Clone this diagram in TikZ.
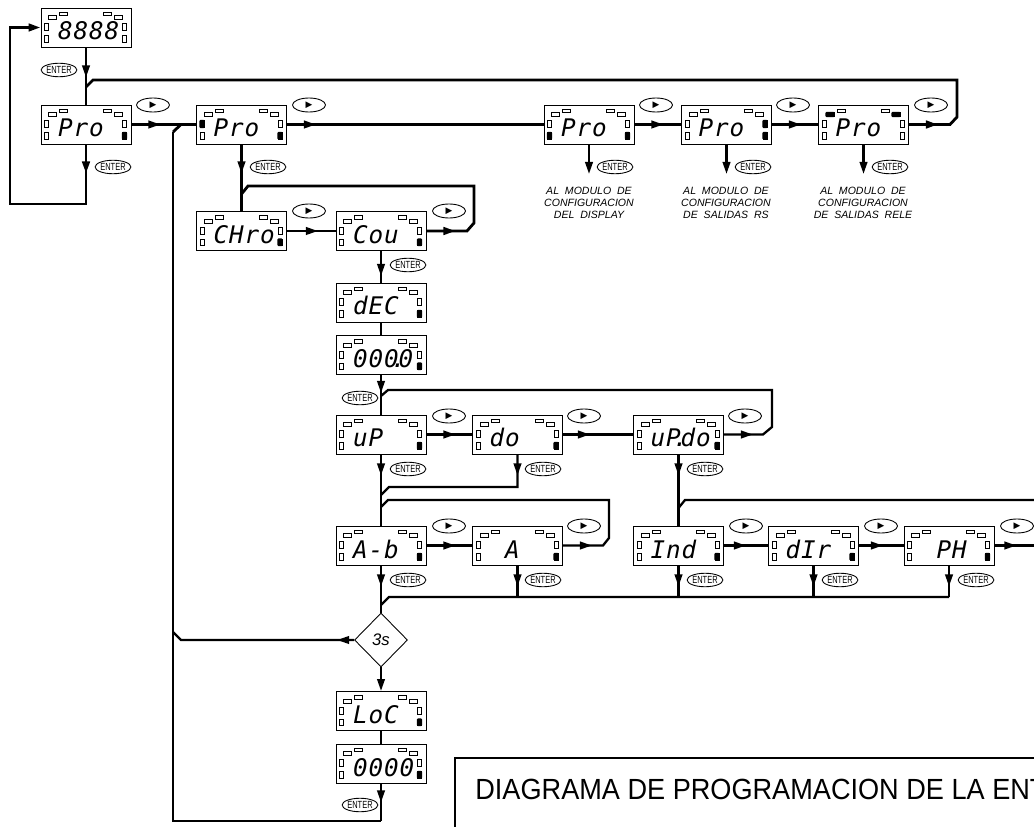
\documentclass[tikz,border=0pt]{standalone}
\usepackage{fontspec}
\usepackage{tikz}
\usetikzlibrary{arrows.meta}
\usetikzlibrary{shapes.geometric}
\usetikzlibrary{decorations.markings}

\setmainfont{Liberation Sans}
\newfontfamily\segfont[LetterSpace=4]{DejaVu Sans Mono}
\newfontfamily\keyfont[FakeStretch=0.72]{Liberation Sans}
\newfontfamily\titlefont[FakeStretch=0.93]{Liberation Sans}
\newfontfamily\symfont{DejaVu Sans}

% indicator rectangles, relative to the top left corner of a display: x/y/w/h
\def\ledTL{8/8/8/4}
\def\ledTM{19/4.5/8/3.5}
\def\ledTN{63/4.5/8/3.5}
\def\ledTR{74/8/8/4}
\def\ledLU{4/16/4/7}
\def\ledLL{4/28/4/6.5}
\def\ledRU{82/16/4/7}
\def\ledRL{82/28/4/6.5}
\def\ledNone{0/0/0/0}
\edef\ledall{\ledTL,\ledTM,\ledTN,\ledTR,\ledLU,\ledLL,\ledRU,\ledRL}
\newcommand{\segdot}{\makebox[0pt][c]{.}}

\tikzset{
    dispnode/.style={draw, line width=0.55pt, minimum width=1.8cm, minimum height=0.78cm,
        inner sep=0pt, text height=0.5cm, text depth=0pt},
    ledoff/.style={draw, line width=0.4pt},
    ledon/.style={fill, draw, line width=0.8pt, rounded corners=0.5pt},
    conn/.style={line width=1.3pt},
    connb/.style={line width=1.6pt},
    tipat/.style={postaction={decorate},
        decoration={markings, mark=at position #1 with {\arrow{>}}}},
    tipat/.default=0.58cm,
    enterkey/.style={draw, ellipse, line width=0.5pt, minimum width=0.66cm, minimum height=0.27cm,
        inner sep=0pt, font=\keyfont\fontsize{5.9}{5.9}\selectfont},
    playkey/.style={draw, ellipse, line width=0.5pt, minimum width=0.66cm, minimum height=0.28cm,
        inner sep=0pt, font=\symfont\fontsize{5}{5}\selectfont},
    modlabel/.style={align=center, font=\itshape\fontsize{6}{6.85}\selectfont},
}

% optional: lit indicators; then name, x, y, readout
\newcommand{\dispbox}[5][\ledRL]{
    \node[dispnode] (#2) at (#3,#4) {\makebox[1.12cm][l]{\segfont\itshape\fontsize{13.8}{15}\selectfont #5}};
    \begin{scope}[shift={(#2.north west)}]
        \foreach \lx/\ly/\lw/\lh in \ledall
            \draw[ledoff] (\lx,\ly) rectangle ++(\lw,\lh);
        \edef\litlist{#1}
        \foreach \lx/\ly/\lw/\lh in \litlist
            \path[ledon] (\lx,\ly) rectangle ++(\lw,\lh);
    \end{scope}
}

\begin{document}
\begin{tikzpicture}[x=0.02cm, y=-0.02cm, >={Triangle[length=0.24cm,width=0.15cm]}]
\useasboundingbox (0,0) rectangle (1034,827);

% --- displays ---
\node[dispnode] (seg) at (86,27.5) {\makebox[1.12cm][l]{\segfont\itshape\fontsize{13.8}{15}\selectfont 8888}};
\begin{scope}[shift={(seg.north west)}]
    \foreach \lx/\ly/\lw/\lh in \ledall
        \draw[ledoff] (\lx,\ly) rectangle ++(\lw,\lh);
\end{scope}
\dispbox{proA}{86}{124.5}{Pro}
\dispbox[\ledLU,\ledRL]{proB}{241.5}{124.5}{Pro}
\dispbox[\ledLL,\ledRL]{proC}{589}{124.5}{Pro}
\dispbox[\ledRU,\ledRL]{proD}{726.5}{124.5}{Pro}
\dispbox[\ledTL,\ledTR]{proE}{863.5}{124.5}{Pro}

\dispbox{chro}{241.5}{231}{CHro}
\dispbox{cou}{381}{231}{Cou}
\dispbox{dec}{381}{302.5}{dEC}
\dispbox{val}{381}{355}{000\segdot 0}

\dispbox{up}{381}{434.5}{uP}
\dispbox{dow}{517.5}{434.5}{do}
\dispbox{updo}{678.5}{434.5}{uP\segdot do}

\dispbox{ab}{381}{545.5}{A-b}
\dispbox{aa}{517.5}{545.5}{~A}
\dispbox{ind}{678.5}{545.5}{Ind}
\dispbox{dir}{813.5}{545.5}{dIr}
\dispbox{ph}{949}{545.5}{~PH}

\dispbox{loc}{381}{711}{LoC}
\dispbox{cod}{381}{763.5}{0000}

\node[draw, diamond, aspect=1, line width=0.5pt, minimum width=1.06cm, minimum height=1.08cm,
      inner sep=0pt, font=\itshape\fontsize{9.5}{9.5}\selectfont] (wait) at (381,640) {3s};

% --- keys ---
\node[enterkey] (enA) at (59,70) {ENTER};
\node[enterkey] (enB) at (113,167) {ENTER};
\node[enterkey] (enC) at (268,167) {ENTER};
\node[enterkey] (enD) at (615,167) {ENTER};
\node[enterkey] (enE) at (753,167) {ENTER};
\node[enterkey] (enF) at (890,167) {ENTER};
\node[enterkey] (enG) at (408,265) {ENTER};
\node[enterkey] (enH) at (360,398) {ENTER};
\node[enterkey] (enI) at (408,469) {ENTER};
\node[enterkey] (enJ) at (543,469) {ENTER};
\node[enterkey] (enK) at (705,469) {ENTER};
\node[enterkey] (enL) at (408,580) {ENTER};
\node[enterkey] (enM) at (543,580) {ENTER};
\node[enterkey] (enN) at (705,580) {ENTER};
\node[enterkey] (enO) at (840,580) {ENTER};
\node[enterkey] (enP) at (976,580) {ENTER};
\node[enterkey] (enQ) at (360,805) {ENTER};

\foreach \kname/\kx/\ky in {plA/153/105, plB/309/105, plC/656/105, plD/793/105, plE/931/105,
        plF/309/211, plG/449/211, plH/449/416, plI/584/416, plJ/745/416,
        plK/449/526, plL/584/526, plM/746/526, plN/881/526, plO/1017/526}
    \node[playkey] (\kname) at (\kx,\ky) {▶};

% --- module labels ---
\node[modlabel] (modA) at (589,203) {AL\ \ MODULO\ \ DE\\CONFIGURACION\\DEL\ \ DISPLAY};
\node[modlabel] (modB) at (726,203) {AL\ \ MODULO\ \ DE\\CONFIGURACION\\DE\ \ SALIDAS\ \ RS};
\node[modlabel] (modC) at (863,203) {AL\ \ MODULO\ \ DE\\CONFIGURACION\\DE\ \ SALIDAS\ \ RELE};

% --- free ends and junctions ---
\coordinate (jTop) at (86,87);
\coordinate (jBack) at (173,132);
\coordinate (jChro) at (241.5,194);
\coordinate (jUp) at (381,396);
\coordinate (jDo) at (381,495);
\coordinate (jAb) at (381,507);
\coordinate (jInd) at (678.5,508);
\coordinate (jBus) at (381,605);
\coordinate (endD) at (589,174);
\coordinate (endE) at (726.5,174);
\coordinate (endF) at (863.5,174);
\coordinate (endPh) at (1040,545.5);
\coordinate (endRet) at (1040,500);
\coordinate (busA) at (517.5,597);
\coordinate (busI) at (678.5,597);
\coordinate (busD) at (813.5,597);
\coordinate (busP) at (949,597);

% --- top row ---
\draw[conn, tipat=0.6cm] (seg.south) -- (proA.north);
\draw[conn, tipat] (proA.east) -- (proB.west);
\draw[conn, tipat] (proB.east) -- (proC.west);
\draw[conn, tipat] (proC.east) -- (proD.west);
\draw[conn, tipat] (proD.east) -- (proE.west);
\draw[connb, tipat] (proE.east) -- (950,124.5) -- (957,117) -- (957,80) -- (93,80) -- (jTop);
\draw[connb, tipat, ->] (proA.south) -- (86,204) -- (10,204) -- (10,27.5) -- (seg.west);
\draw[connb] (181,124.5) -- (jBack);
\draw[connb] (jBack) -- (173,821) -- (381,821);
\draw[conn, tipat=0.38cm] (cod.south) -- (381,821);
\draw[conn, ->] (proC.south) -- (endD);
\draw[conn, ->] (proD.south) -- (endE);
\draw[conn, ->] (proE.south) -- (endF);
\draw[conn, tipat] (proB.south) -- (chro.north);

% --- chrono / count row ---
\draw[conn, tipat=0.62cm] (chro.east) -- (cou.west);
\draw[connb, tipat] (cou.east) -- (467,231) -- (474,223) -- (474,186) -- (248,186) -- (jChro);
\draw[conn, tipat=0.5cm] (cou.south) -- (dec.north);
\draw[conn] (dec.south) -- (val.north);
\draw[conn, tipat=0.36cm] (val.south) -- (up.north);

% --- up / down row ---
\draw[conn, tipat] (up.east) -- (dow.west);
\draw[conn, tipat=0.54cm] (dow.east) -- (updo.west);
\draw[conn, tipat] (updo.east) -- (763,434.5) -- (772,427) -- (772,390) -- (388,390) -- (jUp);
\draw[conn, tipat=0.42cm] (up.south) -- (ab.north);
\draw[conn, tipat=0.42cm] (dow.south) -- (517.5,487) -- (389,487) -- (jDo);
\draw[conn, tipat=0.42cm] (updo.south) -- (ind.north);

% --- inputs row ---
\draw[conn, tipat] (ab.east) -- (aa.west);
\draw[conn, tipat] (aa.east) -- (603,545.5) -- (609,538) -- (609,500) -- (388,500) -- (jAb);
\draw[conn, tipat=0.44cm] (ind.east) -- (dir.west);
\draw[conn, tipat=0.48cm] (dir.east) -- (ph.west);
\draw[conn, tipat=0.44cm] (ph.east) -- (endPh);
\draw[conn] (endRet) -- (685,500) -- (jInd);

% --- towards the 3s decision ---
\draw[conn, tipat=0.42cm] (ab.south) -- (wait.north);
\draw[conn, tipat=0.42cm] (aa.south) -- (busA);
\draw[conn, tipat=0.42cm] (ind.south) -- (busI);
\draw[conn, tipat=0.42cm] (dir.south) -- (busD);
\draw[conn, tipat=0.42cm] (ph.south) -- (busP);
\draw[conn] (busP) -- (389,597) -- (jBus);
\draw[conn, tipat=0.34cm] (wait.west) -- (181,640) -- (173,632);
\draw[conn, ->] (wait.south) -- (loc.north);
\draw[conn] (loc.south) -- (cod.north);

% --- title frame ---
\draw[line width=1pt] (455,835) -- (455,758) -- (1040,758);
\node[anchor=base west, inner sep=0pt, font=\titlefont\fontsize{16.6}{16.6}\selectfont] (title) at (475,799)
    {DIAGRAMA DE PROGRAMACION DE LA ENT};

\end{tikzpicture}
\end{document}
